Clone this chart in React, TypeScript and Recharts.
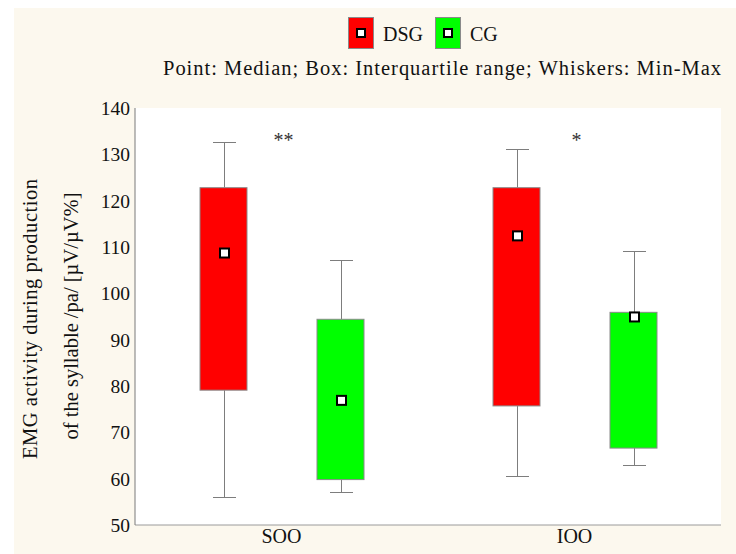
import React from "react";
import {
  ComposedChart,
  Bar,
  Line,
  XAxis,
  YAxis,
  Legend,
  CartesianGrid,
} from "recharts";

const categories = ["SOO", "IOO"];
const seriesNames = ["DSG", "CG"];
const seriesColors = ["#ff0000", "#00ff00"];

const dsgMin = [56.0, 60.6];
const dsgQ1 = [79.1, 75.7];
const dsgMedian = [108.7, 112.4];
const dsgQ3 = [122.8, 122.8];
const dsgMax = [132.7, 131.2];

const cgMin = [57.1, 62.9];
const cgQ1 = [59.8, 66.6];
const cgMedian = [76.9, 94.9];
const cgQ3 = [94.4, 95.9];
const cgMax = [107.1, 109.1];

const significance = ["**", "*"];
const significanceLevel = [134, 134];

const yTicks = [50, 60, 70, 80, 90, 100, 110, 120, 130, 140];
const subtitle = "Point: Median; Box: Interquartile range; Whiskers: Min-Max";
const yLabelLines = ["EMG activity during production", "of the syllable /pa/ [µV/µV%]"];

const FONT = "Liberation Serif, serif";

const data = categories.map((name, i) => ({
  name,
  dsg: [dsgQ1[i], dsgQ3[i]],
  dsgStats: { min: dsgMin[i], q1: dsgQ1[i], median: dsgMedian[i], q3: dsgQ3[i], max: dsgMax[i] },
  cg: [cgQ1[i], cgQ3[i]],
  cgStats: { min: cgMin[i], q1: cgQ1[i], median: cgMedian[i], q3: cgQ3[i], max: cgMax[i] },
  sig: significance[i],
  sigY: significanceLevel[i],
}));

// box + whiskers + median, all scaled from the rectangle recharts gives us
const BoxShape = (props: any) => {
  const { x, y, width, height, payload, fill, statsKey } = props;
  const s = payload[statsKey];
  const k = height / (s.q3 - s.q1);
  const yOf = (v: number) => y + (s.q3 - v) * k;
  const cx = Math.round(x + width / 2) + 0.5;
  const cap = 11.5;
  const yMax = Math.round(yOf(s.max)) + 0.5;
  const yMin = Math.round(yOf(s.min)) + 0.5;
  const yMed = yOf(s.median);
  return (
    <g>
      <line x1={cx} x2={cx} y1={yMax} y2={y} stroke="#7d7d7d" />
      <line x1={cx - cap} x2={cx + cap} y1={yMax} y2={yMax} stroke="#7d7d7d" />
      <line x1={cx} x2={cx} y1={y + height} y2={yMin} stroke="#7d7d7d" />
      <line x1={cx - cap} x2={cx + cap} y1={yMin} y2={yMin} stroke="#7d7d7d" />
      <rect x={x} y={y} width={width} height={height} fill={fill} stroke="#8a8a8a" strokeWidth={1} />
      <rect x={cx - 4.5} y={yMed - 4.5} width={9} height={9} fill="#fff" stroke="#000" strokeWidth={2} />
    </g>
  );
};

const SigMark = (props: any) => {
  const { cx, cy, payload } = props;
  if (cx == null || cy == null) return null;
  return (
    <text x={cx + 2} y={cy + 11} textAnchor="middle" fontFamily={FONT} fontSize={20} fill="#333">
      {payload.sig}
    </text>
  );
};

const YTick = (props: any) => {
  const { x, y, payload } = props;
  return (
    <text x={x} y={y + 7} textAnchor="end" fontFamily={FONT} fontSize={19.5} fill="#111">
      {payload.value}
    </text>
  );
};

const XTick = (props: any) => {
  const { x, y, payload } = props;
  return (
    <text x={x} y={y + 15} textAnchor="middle" fontFamily={FONT} fontSize={20} fill="#111">
      {payload.value}
    </text>
  );
};

const LegendBlock = () => (
  <svg width={736} height={100} style={{ display: "block" }}>
    {seriesNames.map((n, i) => {
      const left = i === 0 ? 348 : 435;
      return (
        <g key={n}>
          <rect x={left + 0.5} y={9.5} width={25} height={31} fill={seriesColors[i]} stroke="#8a8a8a" />
          <rect x={left + 9} y={21} width={8} height={8} fill="#fff" stroke="#000" strokeWidth={2} />
          <text x={left + 35} y={33} fontFamily={FONT} fontSize={20} fill="#111">
            {n}
          </text>
        </g>
      );
    })}
    <text x={163} y={67} fontFamily={FONT} fontSize={20.5} fill="#111" textLength={558} lengthAdjust="spacing">
      {subtitle}
    </text>
  </svg>
);

const YLabel = () => {
  const cy = 319;
  return (
    <g fontFamily={FONT} fontSize={20.5} fill="#111">
      <text x={37} y={cy} textAnchor="middle" transform={`rotate(-90, 37, ${cy})`} textLength={280} lengthAdjust="spacing">
        {yLabelLines[0]}
      </text>
      <text x={78} y={cy - 3} textAnchor="middle" transform={`rotate(-90, 78, ${cy - 3})`} textLength={247} lengthAdjust="spacing">
        {yLabelLines[1]}
      </text>
    </g>
  );
};

export default function App() {
  return (
    <div style={{ position: "absolute", left: 0, top: 0, width: 736, height: 554, background: "#fff" }}>
      <div
        style={{ position: "absolute", left: 14, top: 8, width: 722, height: 546, background: "#fcf8ee" }}
      />
      <div style={{ position: "absolute", left: 0, top: 0, fontFamily: FONT }}>
        <ComposedChart
          width={736}
          height={554}
          data={data}
          margin={{ top: 8, right: 15, bottom: 0, left: 0 }}
          barSize={47}
          barGap={70}
        >
          <CartesianGrid fill="#fff" stroke="none" horizontal={false} vertical={false} />
          <Legend
            verticalAlign="top"
            content={() => <LegendBlock />}
            wrapperStyle={{ left: 0, top: 8, width: 736, height: 100 }}
          />
          <XAxis
            dataKey="name"
            height={29}
            tickLine={false}
            tickSize={0}
            tickMargin={3}
            axisLine={{ stroke: "#9a9a9a" }}
            tick={<XTick />}
          />
          <XAxis xAxisId="top" dataKey="name" orientation="top" height={0} tick={false} tickLine={false} axisLine={{ stroke: "#bcbcbc" }} />
          <YAxis
            domain={[50, 140]}
            ticks={yTicks}
            width={135}
            tickLine={false}
            tickSize={0}
            tickMargin={5}
            interval={0}
            axisLine={{ stroke: "#7a7a7a" }}
            tick={<YTick />}
            label={<YLabel />}
          />
          <YAxis
            yAxisId="right"
            orientation="right"
            domain={[50, 140]}
            width={0}
            tick={false}
            tickLine={false}
            axisLine={{ stroke: "#bcbcbc", strokeWidth: 2 }}
          />
          <Bar
            dataKey="dsg"
            name={seriesNames[0]}
            fill={seriesColors[0]}
            isAnimationActive={false}
            shape={(p: any) => <BoxShape {...p} statsKey="dsgStats" />}
          />
          <Bar
            dataKey="cg"
            name={seriesNames[1]}
            fill={seriesColors[1]}
            isAnimationActive={false}
            shape={(p: any) => <BoxShape {...p} statsKey="cgStats" />}
          />
          <Line
            dataKey="sigY"
            stroke="none"
            legendType="none"
            isAnimationActive={false}
            dot={<SigMark />}
            activeDot={false}
          />
        </ComposedChart>
      </div>
    </div>
  );
}
